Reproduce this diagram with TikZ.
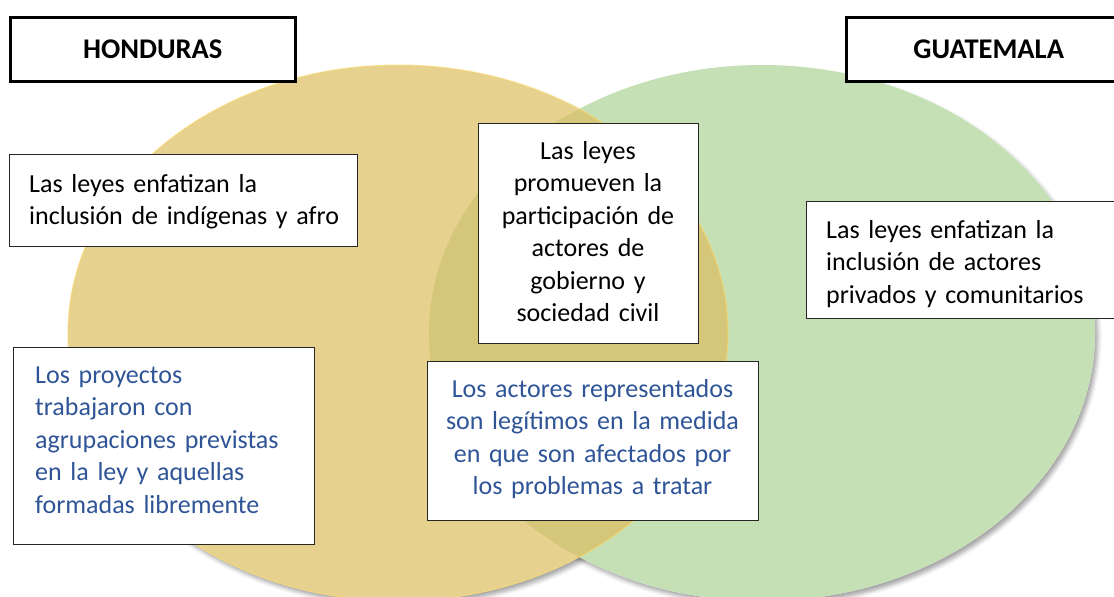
\documentclass[tikz,border=0pt]{standalone}
\usepackage{fontspec}
\setmainfont{Carlito}
\usetikzlibrary{shadows.blur}
\definecolor{yel}{RGB}{230,209,143}
\definecolor{olivefill}{RGB}{212,199,121}
\definecolor{grn}{RGB}{197,224,180}
\definecolor{goldline}{RGB}{255,217,102}
\definecolor{blu}{RGB}{47,85,151}
\definecolor{framecol}{RGB}{38,38,38}
\tikzset{
  titlebox/.style={draw=black, line width=2.5pt, fill=white, inner sep=0pt,
    font=\fontsize{28.5}{34}\selectfont\bfseries},
  textbox/.style={draw=framecol, line width=1.3pt, fill=white, inner sep=0pt},
  bodytxt/.style={font=\fontsize{26}{32.5}\selectfont, inner sep=0pt},
  lefttxt/.style={bodytxt, text width=330pt, align=left, anchor=base west},
  centertxt/.style={bodytxt, text width=340pt, align=center, anchor=base},
  soft/.style={blur shadow={shadow xshift=3pt, shadow yshift=-4pt,
    shadow blur radius=4pt, shadow opacity=35}}
}
\begin{document}
\begin{tikzpicture}[x=1pt,y=-1pt]
\useasboundingbox (0,0) rectangle (1114,597);
\clip (0,0) rectangle (1114,597);
% shadows
\path[soft, fill=white] (762,333) ellipse [x radius=333pt, y radius=268pt];
\path[soft, fill=white] (398,333) ellipse [x radius=330pt, y radius=268pt];
% ellipses
\fill[grn] (762,333) ellipse [x radius=333pt, y radius=268pt];
\fill[yel] (398,333) ellipse [x radius=330pt, y radius=268pt];
\begin{scope}
  \clip (762,333) ellipse [x radius=333pt, y radius=268pt];
  \fill[olivefill] (398,333) ellipse [x radius=330pt, y radius=268pt];
\end{scope}
\draw[goldline, line width=1pt, opacity=0.6] (398,333) ellipse [x radius=330pt, y radius=268pt];
% titles
\node[titlebox, minimum width=285pt, minimum height=64pt, anchor=north west] (hon) at (9,16) {HONDURAS};
\node[titlebox, minimum width=285pt, minimum height=64pt, anchor=north west] (gua) at (845,16) {GUATEMALA};
% boxes
\node[textbox, minimum width=348pt, minimum height=92pt, anchor=north west] (hl) at (9,154) {};
\node[lefttxt] (hlT) at (29,192) {Las leyes enfatizan la\\inclusión de indígenas y afro};
\node[textbox, minimum width=220pt, minimum height=220pt, anchor=north west] (cl) at (478,123) {};
\node[centertxt] (clT) at (588,159) {Las leyes\\promueven la\\participación de\\actores de\\gobierno y\\sociedad civil};
\node[textbox, minimum width=320pt, minimum height=117pt, anchor=north west] (gl) at (806,201) {};
\node[lefttxt] (glT) at (826,238) {Las leyes enfatizan la\\inclusión de actores\\privados y comunitarios};
\node[textbox, minimum width=301pt, minimum height=197pt, anchor=north west] (hp) at (13,347) {};
\node[lefttxt, text=blu] (hpT) at (35,383) {Los proyectos\\trabajaron con\\agrupaciones previstas\\en la ley y aquellas\\formadas libremente};
\node[textbox, minimum width=331pt, minimum height=159pt, anchor=north west] (cp) at (427,361) {};
\node[centertxt, text=blu] (cpT) at (592.5,397) {Los actores representados\\son legítimos en la medida\\en que son afectados por\\los problemas a tratar};
\end{tikzpicture}
\end{document}
